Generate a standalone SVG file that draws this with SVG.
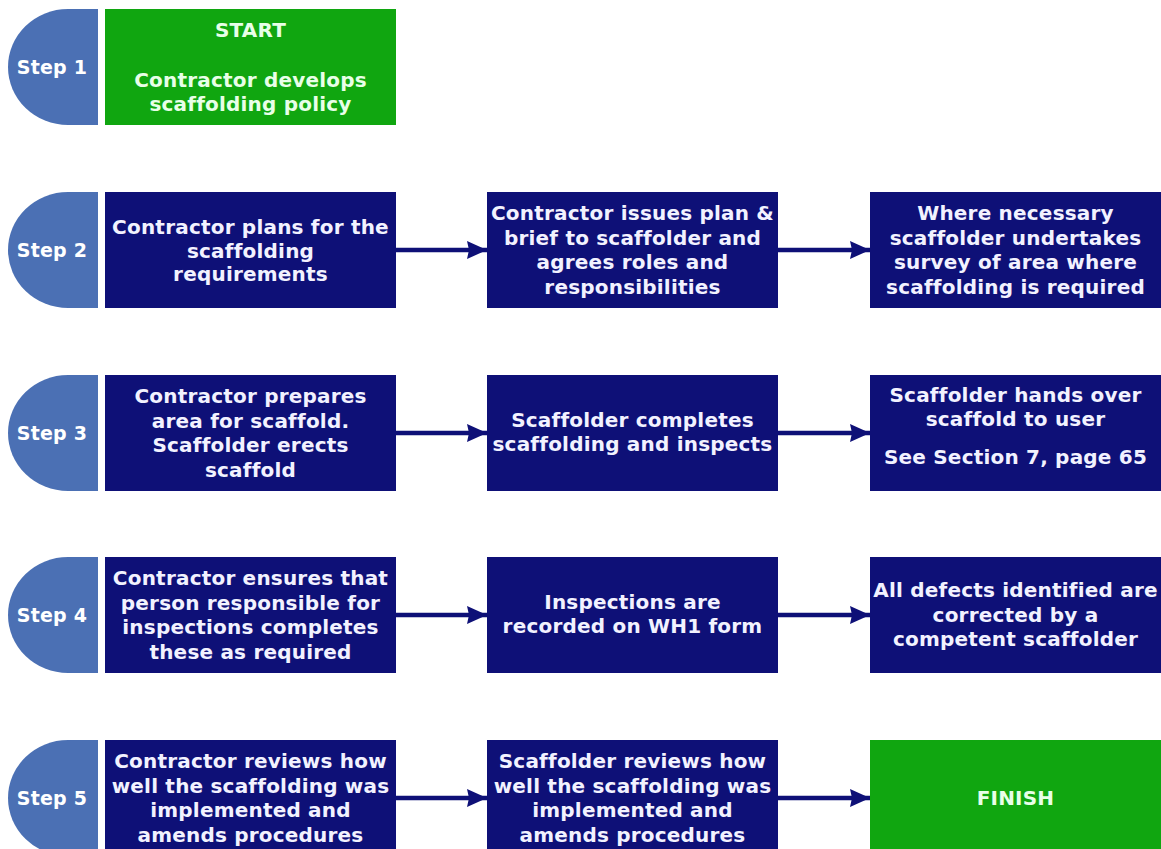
<svg xmlns="http://www.w3.org/2000/svg" width="1161" height="849" viewBox="0 0 1161 849">
<defs>
<style>
text{font-family:"DejaVu Sans","Verdana",sans-serif;font-weight:bold;font-size:20px;text-anchor:middle;letter-spacing:0.2px}
.step{fill:#4b70b4}
.steptxt{fill:#ffffff;font-size:19px}
.navy{fill:#0e1077}
.green{fill:#10a610}
.nt{fill:#f2f2ff}
.gt{fill:#e8ffe8}
.conn line{stroke:#0e1077;stroke-width:4.5}
</style>
<marker id="ah" viewBox="0 0 20 18" refX="20" refY="9" markerWidth="20" markerHeight="18" markerUnits="userSpaceOnUse" orient="auto">
<path d="M0 0 L20 9 L0 18 L2 9 Z" fill="#0e1077"/>
</marker>
</defs>
<rect width="1161" height="849" fill="#ffffff"/>

<g id="step1"><path class="step" d="M98 9 H68 A60 58 0 0 0 8 67 A60 58 0 0 0 68 125 H98 Z"/><text class="steptxt" x="52" y="74">Step 1</text></g>
<g id="step2"><path class="step" d="M98 192 H68 A60 58 0 0 0 8 250 A60 58 0 0 0 68 308 H98 Z"/><text class="steptxt" x="52" y="257">Step 2</text></g>
<g id="step3"><path class="step" d="M98 375 H68 A60 58 0 0 0 8 433 A60 58 0 0 0 68 491 H98 Z"/><text class="steptxt" x="52" y="440">Step 3</text></g>
<g id="step4"><path class="step" d="M98 557 H68 A60 58 0 0 0 8 615 A60 58 0 0 0 68 673 H98 Z"/><text class="steptxt" x="52" y="622">Step 4</text></g>
<g id="step5"><path class="step" d="M98 740 H68 A60 58 0 0 0 8 798 A60 58 0 0 0 68 856 H98 Z"/><text class="steptxt" x="52" y="805">Step 5</text></g>

<g id="start"><rect class="green" x="105" y="9" width="291" height="116"/>
<text class="gt" x="250.5" y="37">START</text>
<text class="gt" x="250.5" y="87">Contractor develops</text>
<text class="gt" x="250.5" y="111">scaffolding policy</text></g>

<g id="r2b1"><rect class="navy" x="105" y="192" width="291" height="116"/>
<text class="nt" x="250.5" y="234">Contractor plans for the</text>
<text class="nt" x="250.5" y="257.5">scaffolding</text>
<text class="nt" x="250.5" y="281">requirements</text></g>
<g id="r2b2"><rect class="navy" x="487" y="192" width="291" height="116"/>
<text class="nt" x="632.5" y="220">Contractor issues plan &amp;</text>
<text class="nt" x="632.5" y="244.5">brief to scaffolder and</text>
<text class="nt" x="632.5" y="269">agrees roles and</text>
<text class="nt" x="632.5" y="293.5">responsibilities</text></g>
<g id="r2b3"><rect class="navy" x="870" y="192" width="291" height="116"/>
<text class="nt" x="1015.5" y="220">Where necessary</text>
<text class="nt" x="1015.5" y="244.5">scaffolder undertakes</text>
<text class="nt" x="1015.5" y="269">survey of area where</text>
<text class="nt" x="1015.5" y="293.5">scaffolding is required</text></g>

<g id="r3b1"><rect class="navy" x="105" y="375" width="291" height="116"/>
<text class="nt" x="250.5" y="403">Contractor prepares</text>
<text class="nt" x="250.5" y="427.5">area for scaffold.</text>
<text class="nt" x="250.5" y="452">Scaffolder erects</text>
<text class="nt" x="250.5" y="476.5">scaffold</text></g>
<g id="r3b2"><rect class="navy" x="487" y="375" width="291" height="116"/>
<text class="nt" x="632.5" y="427">Scaffolder completes</text>
<text class="nt" x="632.5" y="451">scaffolding and inspects</text></g>
<g id="r3b3"><rect class="navy" x="870" y="375" width="291" height="116"/>
<text class="nt" x="1015.5" y="402">Scaffolder hands over</text>
<text class="nt" x="1015.5" y="426">scaffold to user</text>
<text class="nt" x="1015.5" y="464">See Section 7, page 65</text></g>

<g id="r4b1"><rect class="navy" x="105" y="557" width="291" height="116"/>
<text class="nt" x="250.5" y="585">Contractor ensures that</text>
<text class="nt" x="250.5" y="609.5">person responsible for</text>
<text class="nt" x="250.5" y="634">inspections completes</text>
<text class="nt" x="250.5" y="658.5">these as required</text></g>
<g id="r4b2"><rect class="navy" x="487" y="557" width="291" height="116"/>
<text class="nt" x="632.5" y="609">Inspections are</text>
<text class="nt" x="632.5" y="633">recorded on WH1 form</text></g>
<g id="r4b3"><rect class="navy" x="870" y="557" width="291" height="116"/>
<text class="nt" x="1015.5" y="597">All defects identified are</text>
<text class="nt" x="1015.5" y="621.5">corrected by a</text>
<text class="nt" x="1015.5" y="646">competent scaffolder</text></g>

<g id="r5b1"><rect class="navy" x="105" y="740" width="291" height="116"/>
<text class="nt" x="250.5" y="768">Contractor reviews how</text>
<text class="nt" x="250.5" y="792.5">well the scaffolding was</text>
<text class="nt" x="250.5" y="817">implemented and</text>
<text class="nt" x="250.5" y="841.5">amends procedures</text></g>
<g id="r5b2"><rect class="navy" x="487" y="740" width="291" height="116"/>
<text class="nt" x="632.5" y="768">Scaffolder reviews how</text>
<text class="nt" x="632.5" y="792.5">well the scaffolding was</text>
<text class="nt" x="632.5" y="817">implemented and</text>
<text class="nt" x="632.5" y="841.5">amends procedures</text></g>
<g id="finish"><rect class="green" x="870" y="740" width="291" height="116"/>
<text class="gt" x="1015.5" y="805">FINISH</text></g>

<g id="connectors" class="conn">
<line x1="396" y1="250" x2="487" y2="250" marker-end="url(#ah)"/>
<line x1="778" y1="250" x2="870" y2="250" marker-end="url(#ah)"/>
<line x1="396" y1="433" x2="487" y2="433" marker-end="url(#ah)"/>
<line x1="778" y1="433" x2="870" y2="433" marker-end="url(#ah)"/>
<line x1="396" y1="615" x2="487" y2="615" marker-end="url(#ah)"/>
<line x1="778" y1="615" x2="870" y2="615" marker-end="url(#ah)"/>
<line x1="396" y1="798" x2="487" y2="798" marker-end="url(#ah)"/>
<line x1="778" y1="798" x2="870" y2="798" marker-end="url(#ah)"/>
</g>
</svg>
